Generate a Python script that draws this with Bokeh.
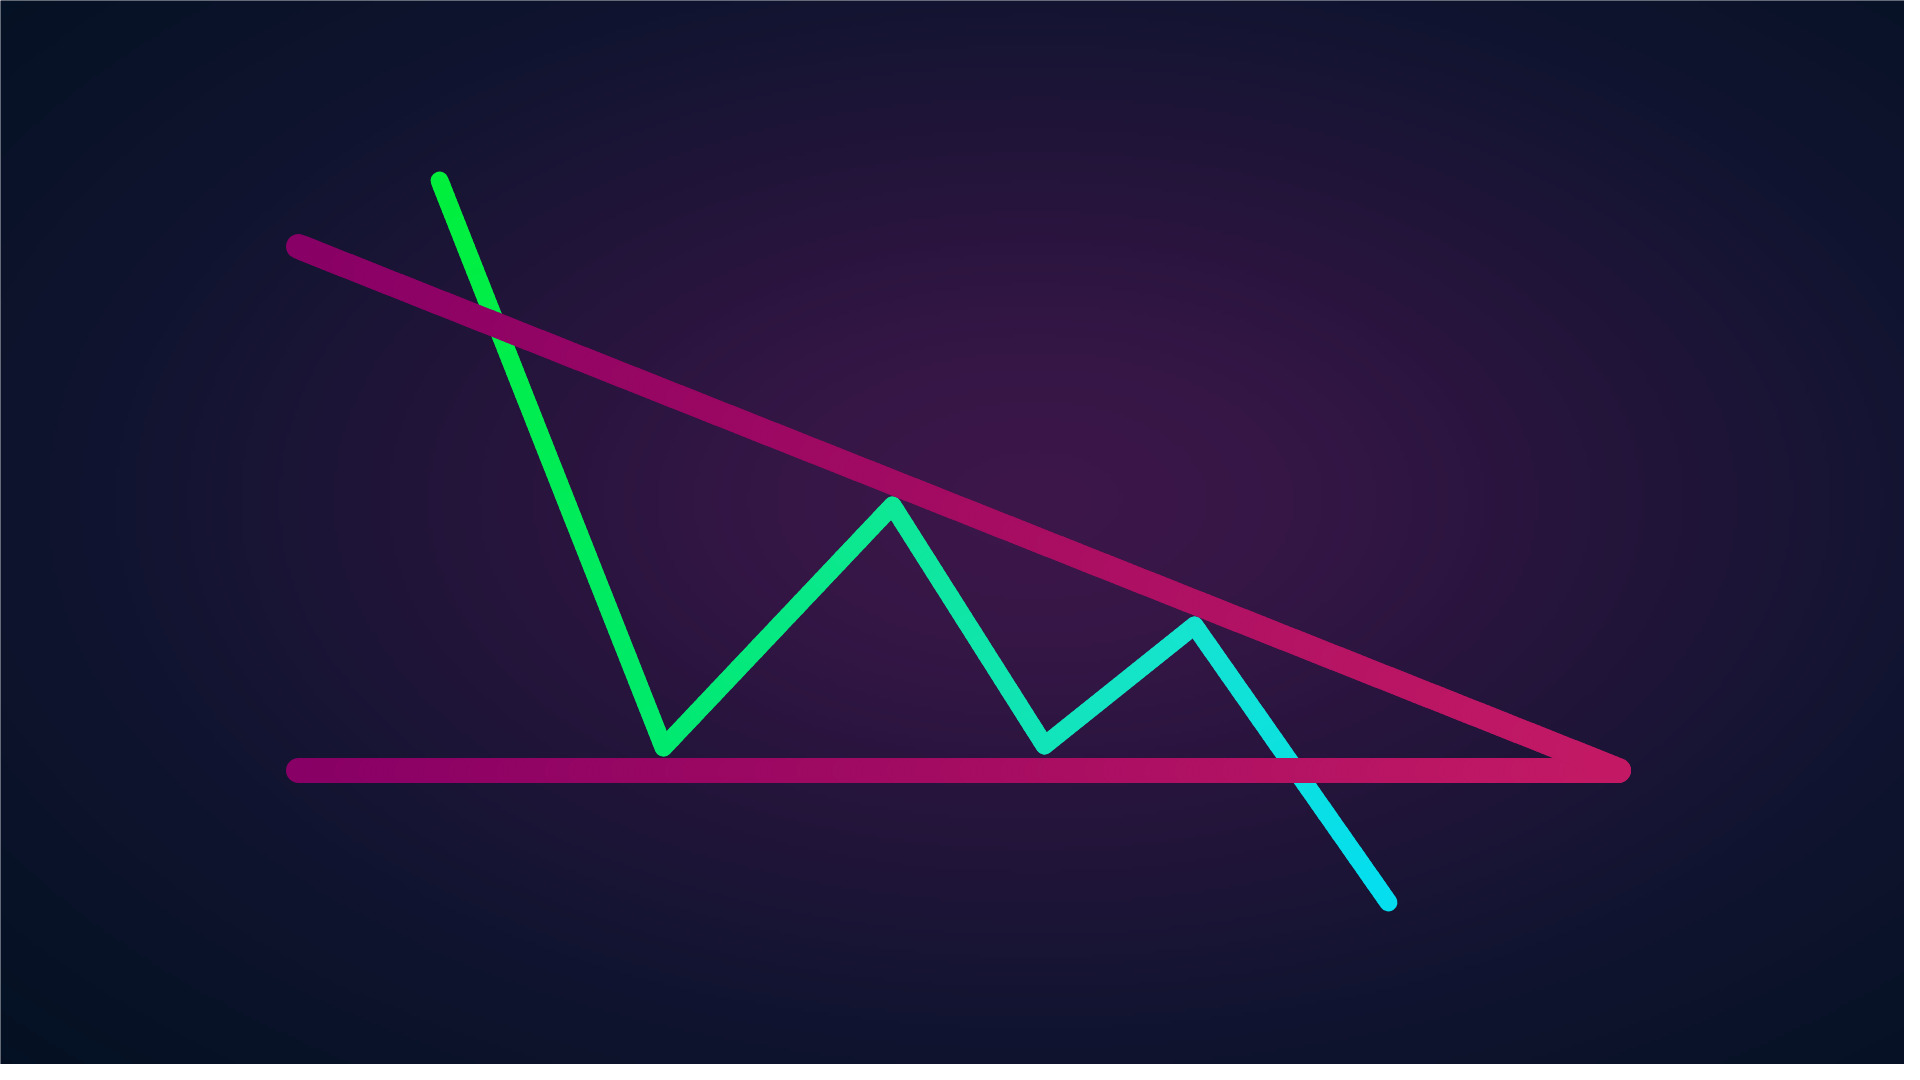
import numpy as np
from bokeh.plotting import figure
from bokeh.embed import file_html
from bokeh.resources import INLINE

# ---- data (time units, price units) ----
pattern_time = [43.9, 66.3, 89.2, 104.4, 119.4, 138.8]
pattern_price = [90.0, 33.3, 57.5, 33.5, 45.5, 17.8]
resistance_time = [29.8, 161.8]
resistance_price = [83.4, 31.0]
support_time = [29.8, 161.8]
support_price = [31.0, 31.0]

# colour stops along time for gradients
pattern_stops_t = [43.9, 66.3, 89.2, 104.4, 119.4, 138.8]
pattern_stops_rgb = [(0, 240, 60), (0, 234, 110), (14, 232, 150), (18, 228, 185), (22, 228, 208), (4, 222, 240)]
magenta_stops_t = [29.8, 95.0, 161.8]
magenta_stops_rgb = [(136, 0, 102), (164, 12, 98), (196, 26, 102)]

W, H = 1904, 1064
X0, X1 = 0.0, 190.4
Y0, Y1 = 1.6, 108.0

p = figure(width=W, height=H, x_range=(X0, X1), y_range=(Y0, Y1),
           output_backend="svg", toolbar_location=None, min_border=0)
p.axis.visible = False
p.grid.visible = False
p.outline_line_color = None
p.background_fill_color = "#0a1428"
p.border_fill_color = "#0a1428"

# ---- radial background ----
IW, IH = 480, 268
ii = np.arange(IW)
jj = np.arange(IH)
px = (ii + 0.5) * W / IW
py = H - (jj + 0.5) * H / IH
PX, PY = np.meshgrid(px, py)
cx, cy, rx, ry = 1035.0, 500.0, 1150.0, 660.0
t = np.sqrt(((PX - cx) / rx) ** 2 + ((PY - cy) / ry) ** 2)
st = np.array([0.0, 0.25, 0.5, 0.8, 1.1, 1.45])
cols = np.array([(62, 22, 74), (52, 22, 69), (36, 20, 59), (17, 20, 48), (7, 18, 38), (1, 14, 30)], float)
img = np.zeros((IH, IW, 4), dtype=np.uint8)
for k in range(3):
    img[:, :, k] = np.interp(t, st, cols[:, k]).astype(np.uint8)
img[:, :, 3] = 255
p.image_rgba(image=[img.view(dtype=np.uint32).reshape(IH, IW)], x=X0, y=Y0, dw=X1 - X0, dh=Y1 - Y0)


def grad_segments(xs, ys, stops_t, stops_rgb, step=0.6):
    sx, sy, sc = [], [], []
    srgb = np.array(stops_rgb, float)
    for a in range(len(xs) - 1):
        x0, y0, x1, y1 = xs[a], ys[a], xs[a + 1], ys[a + 1]
        L = np.hypot(x1 - x0, y1 - y0)
        n = max(1, int(L / step))
        for k in range(n):
            f0, f1 = k / n, (k + 1) / n
            xa, ya = x0 + (x1 - x0) * f0, y0 + (y1 - y0) * f0
            xb, yb = x0 + (x1 - x0) * f1, y0 + (y1 - y0) * f1
            xm = (xa + xb) / 2
            r, g, b = (int(np.interp(xm, stops_t, srgb[:, c])) for c in range(3))
            sx.append([xa, xb])
            sy.append([ya, yb])
            sc.append("#%02x%02x%02x" % (r, g, b))
    return sx, sy, sc


gx, gy, gc = grad_segments(pattern_time, pattern_price, pattern_stops_t, pattern_stops_rgb)
p.multi_line(xs=gx, ys=gy, line_color=gc, line_width=18, line_cap="round", line_join="round")

for tx, ty in ((support_time, support_price), (resistance_time, resistance_price)):
    mx, my, mc = grad_segments(tx, ty, magenta_stops_t, magenta_stops_rgb)
    p.multi_line(xs=mx, ys=my, line_color=mc, line_width=25, line_cap="round", line_join="round")

open("out.html", "w").write(file_html(p, INLINE))
